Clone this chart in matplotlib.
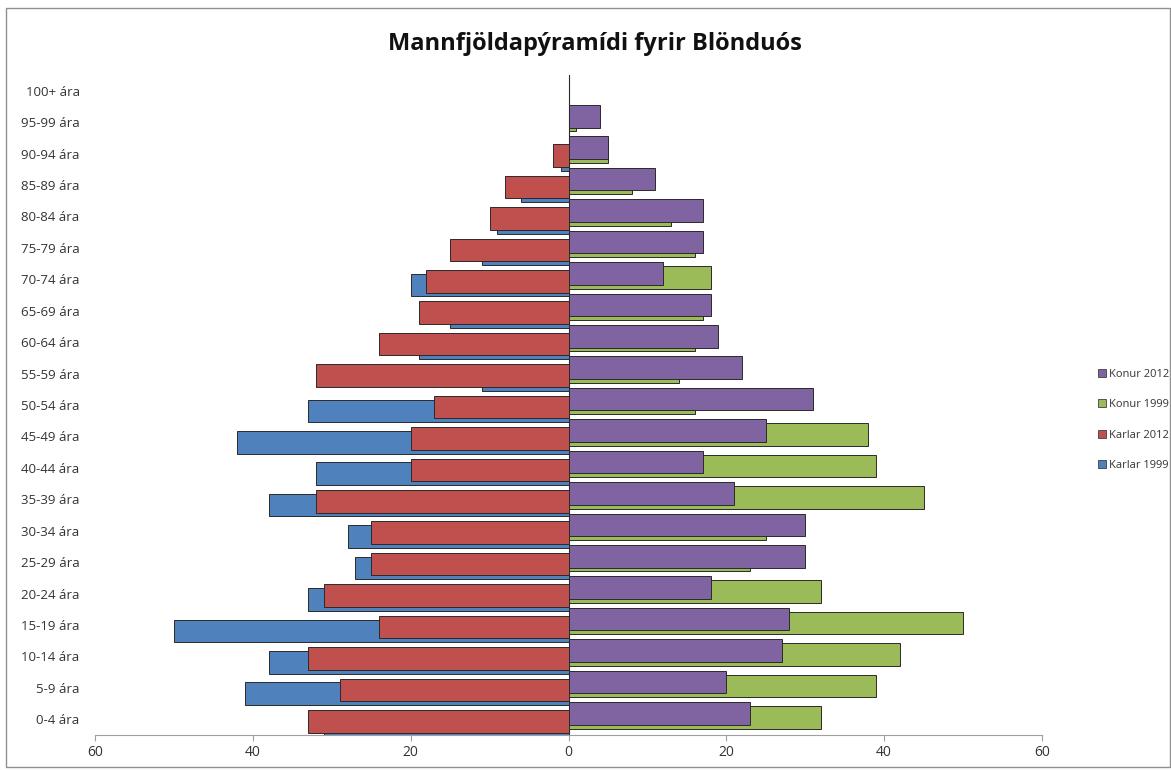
import numpy as np
import matplotlib
matplotlib.use("Agg")
import matplotlib.pyplot as plt
from matplotlib.patches import Rectangle, Patch

plt.rcParams['font.family'] = ['Open Sans', 'DejaVu Sans']

# age groups, bottom to top
age_groups = ['0-4 ára', '5-9 ára', '10-14 ára', '15-19 ára', '20-24 ára', '25-29 ára',
              '30-34 ára', '35-39 ára', '40-44 ára', '45-49 ára', '50-54 ára', '55-59 ára',
              '60-64 ára', '65-69 ára', '70-74 ára', '75-79 ára', '80-84 ára', '85-89 ára',
              '90-94 ára', '95-99 ára', '100+ ára']

karlar_1999 = [31, 41, 38, 50, 33, 27, 28, 38, 32, 42, 33, 11, 19, 15, 20, 11, 9, 6, 1, 0, 0]
karlar_2012 = [33, 29, 33, 24, 31, 25, 25, 32, 20, 20, 17, 32, 24, 19, 18, 15, 10, 8, 2, 0, 0]
konur_1999 = [32, 39, 42, 50, 32, 23, 25, 45, 39, 38, 16, 14, 16, 17, 18, 16, 13, 8, 5, 1, 0]
konur_2012 = [23, 20, 27, 28, 18, 30, 30, 21, 17, 25, 31, 22, 19, 18, 12, 17, 17, 11, 5, 4, 0]

tick_vals = [-60, -40, -20, 0, 20, 40, 60]

fig = plt.figure(figsize=(11.71, 7.70), dpi=100)
ax = fig.add_axes([95 / 1171, 1 - 735 / 770, (1042 - 95) / 1171, (735 - 75) / 770])

y = np.arange(len(age_groups))
h = 0.72
step = 0.125

series = [
    (karlar_1999, -1, '#4F81BD', 'Karlar 1999'),
    (karlar_2012, -1, '#C0504D', 'Karlar 2012'),
    (konur_1999, 1, '#9BBB59', 'Konur 1999'),
    (konur_2012, 1, '#8064A2', 'Konur 2012'),
]
handles = []
for k, (vals, sign, col, lab) in enumerate(series):
    off = (k - 1.5) * step
    ax.barh(y + off, sign * np.array(vals), height=h, color=col,
            edgecolor='#2a2a2a', linewidth=0.7, zorder=2 + k)
    handles.append(Patch(facecolor=col, edgecolor='#404040', linewidth=0.6, label=lab))

ax.set_xlim(-60, 60)
ax.set_ylim(-0.5, len(age_groups) - 0.5)
ax.set_xticks(tick_vals)
ax.set_xticklabels([str(abs(v)) for v in tick_vals], fontsize=10, color='#333333')
ax.set_yticks(y)
ax.set_yticklabels(age_groups, fontsize=9.5, color='#333333')
ax.tick_params(axis='y', length=0, pad=11)
ax.tick_params(axis='x', length=4, color='#a0a0a0', pad=3)

for s in ['top', 'right', 'left']:
    ax.spines[s].set_visible(False)
ax.spines['bottom'].set_color('#a0a0a0')
ax.axvline(0, color='#a0a0a0', lw=0.9, zorder=1)

fig.text(595 / 1171, 1 - 44 / 770, 'Mannfjöldapýramídi fyrir Blönduós',
         ha='center', va='center', fontsize=17, fontweight='bold', color='#111111')

leg = fig.legend(handles=handles[::-1], loc='center left',
                 bbox_to_anchor=(1088 / 1171, 1 - 420 / 770), frameon=False,
                 fontsize=8, handlelength=0.7, handleheight=0.7,
                 handletextpad=0.3, labelspacing=1.75)
for t in leg.get_texts():
    t.set_color('#333333')

fig.patches.append(Rectangle((6 / 1171, 1 - 767 / 770), 1 - 7 / 1171, (767 - 8) / 770,
                             transform=fig.transFigure, fill=False,
                             edgecolor='#909090', linewidth=1.0))

fig.savefig('out.png', dpi=100)
